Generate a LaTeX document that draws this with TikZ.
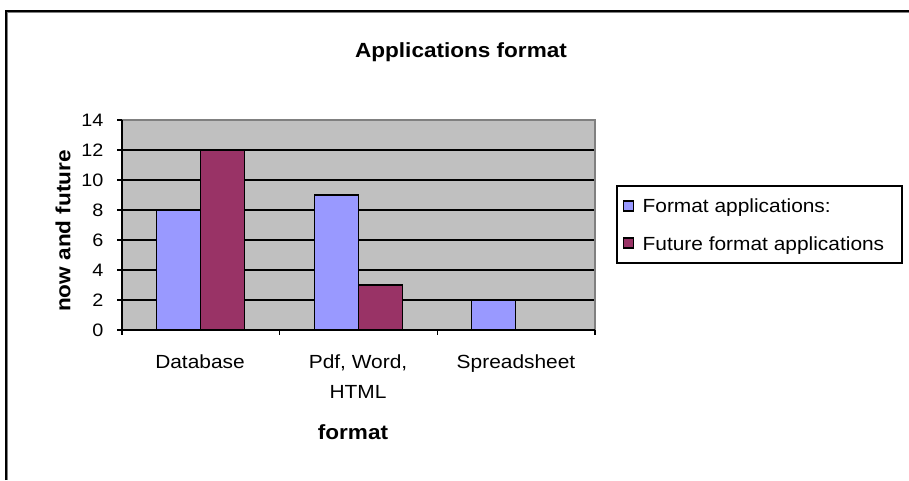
\documentclass[tikz,border=0pt]{standalone}
\usepackage{fontspec}
\setmainfont[FakeStretch=1.1]{Liberation Sans}
\definecolor{plotgray}{HTML}{C0C0C0}
\definecolor{nowblue}{HTML}{9999FF}
\definecolor{futurered}{HTML}{993366}
\begin{document}
\begin{tikzpicture}[x=1pt,y=-1pt,line width=1.2pt,
  every node/.style={inner sep=0pt,font=\fontsize{19}{22}\selectfont},
  ticklabel/.style={anchor=east,font=\fontsize{18}{20}\selectfont},
  catlabel/.style={anchor=base},
  boldlabel/.style={font=\fontsize{20.5}{23}\selectfont\bfseries},
  legendtext/.style={anchor=base west,font=\fontsize{19}{22}\selectfont},
  nowbar/.style={draw=black,fill=nowblue},
  futurebar/.style={draw=black,fill=futurered}]

    \useasboundingbox (0,0) rectangle (909,480);
    % frame
    \draw[line width=1.5pt] (6,480) -- (6,11) -- (909,11);
    \draw[gray,line width=1.5pt] (7.5,480) -- (7.5,12.5) -- (909,12.5);

    \node[boldlabel,anchor=base] (title) at (461,57) {Applications format};

    % plot area
    \fill[plotgray] (122,120) rectangle (595,330);
    \foreach \v in {2,4,...,12}
        \draw (122,330-15*\v) -- (595,330-15*\v);
    \draw[gray] (122,120) -- (595,120) -- (595,330);

    % bars
    \foreach \c/\now/\future in {0/8/12,1/9/3,2/2/0} {
        \draw[nowbar] (156.5+157.67*\c,330) rectangle (200.5+157.67*\c,330-15*\now);
        \ifnum\future>0
            \draw[futurebar] (200.5+157.67*\c,330) rectangle (244.5+157.67*\c,330-15*\future);
        \fi
    }

    % axes
    \draw (122,120) -- (122,330) -- (595,330);
    \foreach \v in {0,2,...,14} {
        \draw (117,330-15*\v) -- (122,330-15*\v);
        \node[ticklabel] (y\v) at (104,330-15*\v) {\v};
    }
    \foreach \x in {122,279.7,437.3,595}
        \draw (\x,330) -- (\x,335);

    \node[catlabel] (database) at (200,368) {Database};
    \node[catlabel] (pdf) at (358,368) {Pdf, Word,};
    \node[catlabel] (html) at (358,398) {HTML};
    \node[catlabel] (spreadsheet) at (516,368) {Spreadsheet};
    \node[boldlabel,anchor=base] (xlabel) at (353,439) {format};
    \node[boldlabel,rotate=90] (ylabel) at (63,231) {now and future};

    % legend
    \draw (617,186) rectangle (902,263);
    \draw[nowbar] (623.5,201) rectangle (633.5,211);
    \node[legendtext] (nowtext) at (642,212.5) {Format applications:};
    \draw[futurebar] (623.5,238) rectangle (633.5,248);
    \node[legendtext] (futuretext) at (642,250) {Future format applications};
\end{tikzpicture}
\end{document}
